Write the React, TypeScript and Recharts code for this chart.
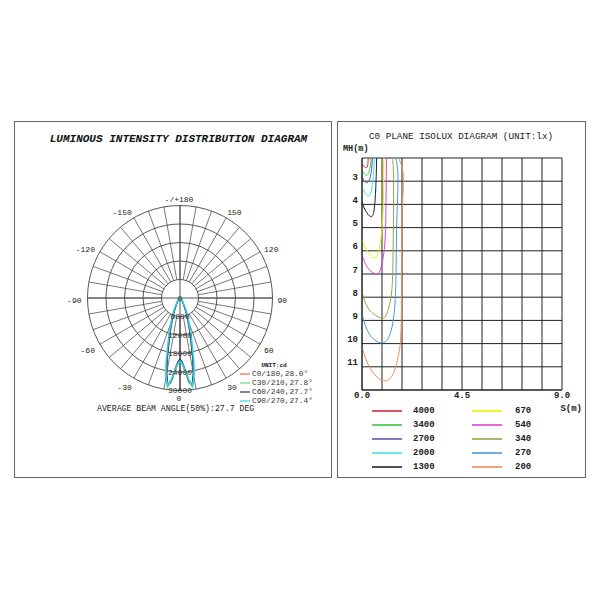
import React from 'react';
import {
  RadarChart, Radar, PolarGrid, PolarAngleAxis, PolarRadiusAxis,
  LineChart, Line, XAxis, YAxis, CartesianGrid,
} from 'recharts';

const MONO = "'Liberation Mono', 'DejaVu Sans Mono', monospace";

// ---------------- Luminous intensity (polar) data ----------------
// angles from nadir (degrees); curves are symmetric about nadir
const BEAM_ANGLES = [0, 2, 4, 6, 8, 10, 12, 14, 16, 18, 20, 22, 24, 26, 28, 30, 32, 34, 36, 38, 40, 42, 44];
const C0_180 = [20500, 21500, 24000, 27500, 28800, 25000, 20000, 15000, 11500, 9000, 7000, 5500, 4300, 3400, 2700, 2200, 1800, 1500, 1200, 1000, 800, 600, 400];
const C30_210 = [20000, 21000, 23500, 27000, 29200, 26000, 20500, 15500, 12000, 9500, 7500, 6000, 4700, 3700, 2900, 2300, 1900, 1500, 1200, 950, 750, 550, 350];
const C60_240 = [19800, 20800, 23200, 26800, 28500, 25000, 20000, 15000, 11800, 9300, 7300, 5800, 4500, 3500, 2800, 2200, 1800, 1400, 1100, 900, 700, 500, 300];
const C90_270 = [20500, 21300, 23500, 26500, 28800, 26100, 21800, 16800, 13300, 10600, 8400, 6800, 5600, 4500, 3600, 2900, 2300, 1800, 1400, 1100, 850, 600, 400];

const CURVE_KEYS = ['c0', 'c30', 'c60', 'c90'];
const CURVE_NAMES = ['C0/180,28.0°', 'C30/210,27.8°', 'C60/240,27.7°', 'C90/270,27.4°'];
const CURVE_COLORS = ['#d9742b', '#6ad879', '#1f2a8a', '#2fd4e6'];
const CURVE_VALUES = [C0_180, C30_210, C60_240, C90_270];

const RADIUS_TICKS = [0, 6000, 12000, 18000, 24000, 30000];
const ANGLE_DOMAIN = [0, 360];
const GRID_STEP = 10; // one spoke every 10 degrees
const ANGLE_LABEL_VALUES = [0, 30, 60, 90, 120, 150, 180, 210, 240, 270, 300, 330];
const ANGLE_LABEL_TEXT = ['0', '30', '60', '90', '120', '150', '-/+180', '-150', '-120', '-90', '-60', '-30'];

const STEP = BEAM_ANGLES[1] - BEAM_ANGLES[0];
const CURVE_DATA = Array.from({ length: 360 / STEP + 1 }, (_, i) => {
  const a = i * STEP;
  const d = Math.min(a, 360 - a);
  const idx = BEAM_ANGLES.indexOf(d);
  const row: any = { angle: a };
  CURVE_KEYS.forEach((k, j) => { row[k] = idx >= 0 ? CURVE_VALUES[j][idx] : 0; });
  return row;
});

const OUTER_R = 92.5;
const R_MAX = RADIUS_TICKS[RADIUS_TICKS.length - 1];
const INNER_R = (OUTER_R * RADIUS_TICKS[1]) / R_MAX;

// ---------------- Isolux (C0 plane) data: [S (m), MH (m)] ----------------
const ISO_4000 = [[0, 2.24], [0.1, 2.37], [0.21, 2.41], [0.26, 2.3], [0.28, 2.0]];
const ISO_3400 = [[0, 2.52], [0.1, 2.68], [0.21, 2.74], [0.31, 2.62], [0.38, 2.3], [0.41, 2.0]];
const ISO_2700 = [[0, 2.8], [0.1, 2.98], [0.22, 3.07], [0.34, 2.92], [0.43, 2.5], [0.47, 2.0]];
const ISO_2000 = [[0, 3.2], [0.12, 3.48], [0.29, 3.64], [0.42, 3.42], [0.51, 2.8], [0.56, 2.0]];
const ISO_1300 = [[0, 3.88], [0.15, 4.25], [0.41, 4.53], [0.55, 4.2], [0.62, 3.3], [0.66, 2.0]];
const ISO_670 = [[0, 5.53], [0.2, 5.95], [0.55, 6.3], [0.78, 5.9], [0.92, 4.8], [0.97, 3.5], [0.98, 2.0]];
const ISO_540 = [[0, 6.17], [0.25, 6.72], [0.66, 7.0], [0.88, 6.62], [1.03, 5.66], [1.08, 4.0], [1.1, 2.0]];
const ISO_340 = [[0, 7.75], [0.3, 8.5], [0.89, 8.9], [1.15, 8.62], [1.33, 7.82], [1.4, 6.0], [1.42, 3.0], [1.36, 2.0]];
const ISO_270 = [[0, 8.75], [0.35, 9.62], [0.91, 9.97], [1.25, 9.62], [1.42, 8.9], [1.52, 7.5], [1.56, 5.0], [1.62, 2.9], [1.52, 2.0]];
const ISO_200 = [[0, 10.14], [0.4, 11.12], [1.03, 11.6], [1.45, 11.2], [1.64, 10.5], [1.77, 9.0], [1.79, 5.0], [1.86, 2.8], [1.64, 2.0]];

const ISO_LEVELS = ['4000', '3400', '2700', '2000', '1300', '670', '540', '340', '270', '200'];
const ISO_COLORS = ['#d22a3c', '#3cc83c', '#5a5ab4', '#3ce6e6', '#202020', '#f0f000', '#e040d0', '#a0a040', '#4a98dc', '#f08a5a'];
const ISO_POINTS = [ISO_4000, ISO_3400, ISO_2700, ISO_2000, ISO_1300, ISO_670, ISO_540, ISO_340, ISO_270, ISO_200];

const S_TICKS = [0, 0.9, 1.8, 2.7, 3.6, 4.5, 5.4, 6.3, 7.2, 8.1, 9];
const S_LABEL_VALUES = [0, 4.5, 9];
const S_LABEL_TEXT = ['0.0', '4.5', '9.0'];
const MH_TICKS = [2, 3, 4, 5, 6, 7, 8, 9, 10, 11, 12];
const MH_LABELED = [3, 4, 5, 6, 7, 8, 9, 10, 11];

// ---------------- tick renderers ----------------
const AngleTick = (props: any) => {
  const { x, y, payload, textAnchor } = props;
  const v = Number(payload.value);
  if (v >= 360) return <g />;
  const idx = ANGLE_LABEL_VALUES.indexOf(v);
  if (idx < 0) return <g />;
  const dx = textAnchor === 'start' ? -3 : textAnchor === 'end' ? 2 : -1;
  const dy = v === 0 ? -0.5 : 2;
  return (
    <text x={x + dx} y={y + dy} textAnchor={textAnchor} dominantBaseline="central"
      fontSize={8} fontFamily={MONO} fill="#222">{ANGLE_LABEL_TEXT[idx]}</text>
  );
};

const RadiusTick = (props: any) => {
  const { x, y, payload } = props;
  return (
    <text x={x} y={y} textAnchor="middle" dominantBaseline="central"
      fontSize={8} fontFamily={MONO} fill="#333">{String(payload.value)}</text>
  );
};

const XTick = (props: any) => {
  const { x, y, payload } = props;
  const idx = S_LABEL_VALUES.indexOf(Number(payload.value));
  if (idx < 0) return <g />;
  return (
    <text x={x} y={y + 4} textAnchor="middle" dominantBaseline="central"
      fontSize={9} fontWeight="bold" fontFamily={MONO} fill="#222">{S_LABEL_TEXT[idx]}</text>
  );
};

const YTick = (props: any) => {
  const { x, y, payload } = props;
  if (MH_LABELED.indexOf(Number(payload.value)) < 0) return <g />;
  return (
    <text x={x - 2} y={y - 3.5} textAnchor="end" dominantBaseline="central"
      fontSize={9} fontWeight="bold" fontFamily={MONO} fill="#222">{String(payload.value)}</text>
  );
};

const LEG_ROW_Y = [411, 425, 439, 453, 467];

export default function App() {
  return (
    <div style={{ position: 'absolute', left: 0, top: 0, width: 600, height: 600, background: '#fff', overflow: 'hidden' }}>
      <svg width={600} height={600} style={{ position: 'absolute', left: 0, top: 0 }}>
        <rect x={14.5} y={121.5} width={317} height={356} fill="none" stroke="#666" strokeWidth={1} />
        <rect x={337.5} y={121.5} width={248} height={356} fill="none" stroke="#666" strokeWidth={1} />
        <text x={178.5} y={139} textAnchor="middle" dominantBaseline="central" fontFamily={MONO}
          fontSize={11} fontWeight="bold" fontStyle="italic" fill="#111">LUMINOUS INTENSITY DISTRIBUTION DIAGRAM</text>
        <text x={97} y={408.5} dominantBaseline="central" fontFamily={MONO} fontSize={8.2} fill="#222">AVERAGE BEAM ANGLE(50%):27.7 DEG</text>
        <text x={274} y={365} textAnchor="middle" dominantBaseline="central" fontFamily={MONO} fontSize={6} fontWeight="bold" fill="#111">UNIT:cd</text>
        {CURVE_NAMES.map((n, i) => (
          <g key={n}>
            <line x1={240} x2={250} y1={374 + i * 9} y2={374 + i * 9} stroke={CURVE_COLORS[i]} strokeWidth={1.2} />
            <text x={252} y={374 + i * 9} dominantBaseline="central" fontFamily={MONO} fontSize={7.8} fill="#333">{n}</text>
          </g>
        ))}
        <text x={461} y={136} textAnchor="middle" dominantBaseline="central" fontFamily={MONO} fontSize={9.3} fill="#222">C0 PLANE ISOLUX DIAGRAM (UNIT:lx)</text>
        <text x={343} y={149} dominantBaseline="central" fontFamily={MONO} fontSize={8.5} fontWeight="bold" fill="#222">MH(m)</text>
        <text x={582} y={409} textAnchor="end" dominantBaseline="central" fontFamily={MONO} fontSize={9} fontWeight="bold" fill="#222">S(m)</text>
        {ISO_LEVELS.map((lv, i) => {
          const col = i < 5 ? 0 : 1;
          const y = LEG_ROW_Y[i % 5];
          const x0 = col === 0 ? 372 : 472;
          return (
            <g key={lv}>
              <line x1={x0} x2={x0 + 30} y1={y} y2={y} stroke={ISO_COLORS[i]} strokeWidth={1.6} />
              <text x={col === 0 ? 413 : 515} y={y} dominantBaseline="central" fontFamily={MONO}
                fontSize={9} fontWeight="bold" fill="#222">{lv}</text>
            </g>
          );
        })}
      </svg>

      {/* spokes between the 6000 ring and the outer ring, angle labels */}
      <div style={{ position: 'absolute', left: 20, top: 138 }}>
        <RadarChart width={320} height={320} data={CURVE_DATA} innerRadius={INNER_R} outerRadius={OUTER_R}
          startAngle={-90} endAngle={270} margin={{ top: 0, right: 0, bottom: 0, left: 0 }}>
          <PolarGrid gridType="circle" polarRadius={[]} stroke="#555" strokeWidth={0.8} />
          <PolarAngleAxis type="number" dataKey="angle" domain={ANGLE_DOMAIN} tickCount={360 / GRID_STEP + 1}
            tick={AngleTick} tickLine={false} axisLine={false} />
        </RadarChart>
      </div>

      {/* rings, main axes, intensity curves */}
      <div style={{ position: 'absolute', left: 20, top: 138 }}>
        <RadarChart width={320} height={320} data={CURVE_DATA} outerRadius={OUTER_R}
          startAngle={-90} endAngle={270} margin={{ top: 0, right: 0, bottom: 0, left: 0 }}>
          <PolarGrid gridType="circle" polarAngles={[0, 90, 180, 270]} stroke="#444" strokeWidth={0.9} />
          <PolarAngleAxis type="number" dataKey="angle" domain={ANGLE_DOMAIN} tick={false} tickLine={false} axisLine={false} />
          {CURVE_KEYS.map((k, i) => (
            <Radar key={k} dataKey={k} stroke={CURVE_COLORS[i]} strokeWidth={i === 3 ? 1.6 : 1.3}
              fill="none" fillOpacity={0} isAnimationActive={false} dot={false} />
          ))}
          <PolarRadiusAxis angle={-90} type="number" domain={[0, R_MAX]} ticks={RADIUS_TICKS} tickCount={6}
            tick={RadiusTick} axisLine={false} tickLine={false} />
        </RadarChart>
      </div>

      {/* isolux diagram */}
      <div style={{ position: 'absolute', left: 337, top: 120 }}>
        <LineChart width={250} height={290} margin={{ top: 38, right: 25, bottom: 0, left: 0 }}>
          <CartesianGrid stroke="#222" strokeWidth={1} />
          <XAxis type="number" dataKey="s" domain={[0, 9]} ticks={S_TICKS} interval={0} height={20}
            tick={XTick} tickSize={0} tickMargin={2} axisLine={{ stroke: '#222' }} allowDataOverflow />
          <YAxis type="number" domain={[2, 12]} ticks={MH_TICKS} interval={0} reversed width={25}
            tick={YTick} tickSize={0} tickMargin={2} axisLine={{ stroke: '#222' }} allowDataOverflow />
          {ISO_LEVELS.map((lv, i) => (
            <Line key={lv} data={ISO_POINTS[i].map(([s, mh]) => ({ s, mh }))} dataKey="mh" type="natural"
              stroke={ISO_COLORS[i]} strokeWidth={1} dot={false} isAnimationActive={false} />
          ))}
        </LineChart>
      </div>
    </div>
  );
}
